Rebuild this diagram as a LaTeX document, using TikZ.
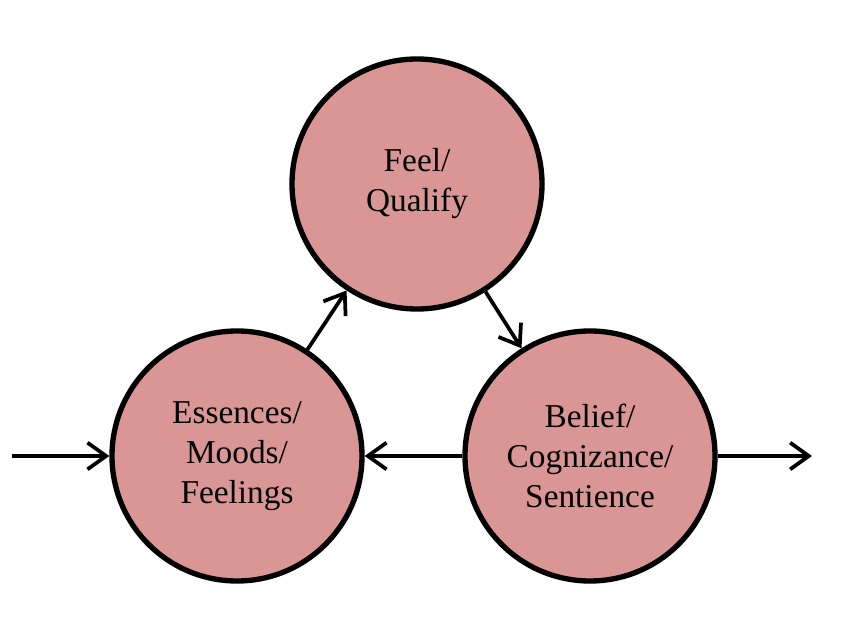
\documentclass[tikz,border=0pt]{standalone}
\usepackage{fontspec}
\setmainfont{Liberation Serif}
\usetikzlibrary{arrows.meta}
\definecolor{rosefill}{HTML}{D99694}

\begin{document}
\begin{tikzpicture}[x=0.75pt, y=0.75pt,
    stage/.style={circle, draw=black, line width=4pt, fill=rosefill,
        minimum size=187.5pt, inner sep=0pt, align=center,
        font=\rmfamily\fontsize{25}{30}\selectfont},
    flow/.style={line width=2.8pt, -{Straight Barb[length=14pt,width=20pt]}}]

    \useasboundingbox (0,0) rectangle (860,625);

    % Three stages
    \node[stage] (feel) at (417,441) {Feel/\\Qualify};
    \node[stage] (essence) at (237,169) {Essences/\\Moods/\\Feelings};
    \node[stage] (belief) at (590,169) {Belief/\\Cognizance/\\Sentience};

    % Free ends of the input and output
    \coordinate (in) at (12,169);
    \coordinate (out) at (812,169);

    % Cycle
    \draw[flow] (essence) -- (feel);
    \draw[flow] (feel) -- (belief);
    \draw[flow] (belief) -- (essence);

    % Input and output
    \draw[flow] (in) -- (essence);
    \draw[flow] (belief) -- (out);

\end{tikzpicture}
\end{document}
